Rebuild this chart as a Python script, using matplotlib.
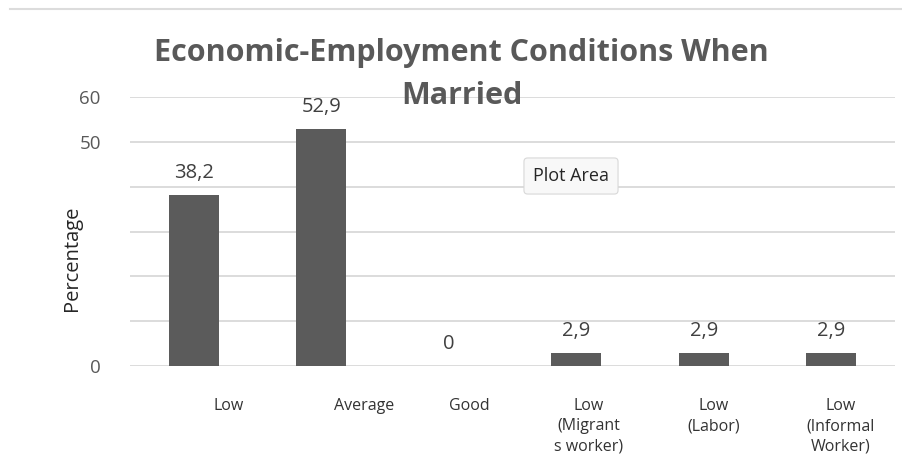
import matplotlib
matplotlib.use("Agg")
import matplotlib.pyplot as plt
from matplotlib.transforms import offset_copy
from matplotlib.lines import Line2D

plt.rcParams['font.family'] = ['Open Sans', 'DejaVu Sans']

categories = ["Low", "Average", "Good", "Low\n(Migrant\ns worker)", "Low\n(Labor)", "Low\n(Informal\nWorker)"]
values = [38.2, 52.9, 0.0, 2.9, 2.9, 2.9]
value_labels = ["38,2", "52,9", "0", "2,9", "2,9", "2,9"]
ytick_values = [0, 10, 20, 30, 40, 50, 60]
ytick_labels = ["0", "", "", "", "", "50", "60"]

# horizontal nudges (points) for the category labels
label_shift = [25, 31, 15, 9, 7, 7]

W, H = 902, 457
fig = plt.figure(figsize=(W / 100, H / 100), dpi=100)
fig.patch.set_facecolor("white")

ax = fig.add_axes([130 / W, (H - 366) / H, (895 - 130) / W, (366 - 97) / H])
x = list(range(len(categories)))
ax.bar(x, values, width=0.39, color="#5b5b5b", zorder=3)

ax.set_xlim(-0.5, len(categories) - 0.5)
ax.set_ylim(0, 60)
ax.set_yticks(ytick_values)
ax.set_yticklabels(ytick_labels, fontsize=13.5, color="#595959")
ax.yaxis.grid(True, color="#dcdcdc", linewidth=1.4, zorder=0)
ax.tick_params(axis="y", length=0, pad=21)
ax.tick_params(axis="x", length=0, pad=23)
for s in ax.spines.values():
    s.set_visible(False)

ax.set_xticks(x)
ax.set_xticklabels(categories, fontsize=11.5, color="#333333", linespacing=1.35,
                   va="top", ha="center")
for lbl, dx in zip(ax.get_xticklabels(), label_shift):
    lbl.set_transform(offset_copy(lbl.get_transform(), fig=fig, x=dx, y=0, units="points"))

for xi, v, t in zip(x, values, value_labels):
    ax.annotate(t, (xi, v), xytext=(0, 16), textcoords="offset points",
                ha="center", va="center", fontsize=14.5, color="#404040", clip_on=False)

ax.set_ylabel("Percentage", fontsize=14.5, color="#262626")
ax.yaxis.set_label_coords(-0.063, 0.40)

fig.text(461 / W, 1 - 53 / H, "Economic-Employment Conditions When",
         ha="center", va="center", fontsize=22, fontweight="bold", color="#595959")
fig.text(462 / W, 1 - 96 / H, "Married",
         ha="center", va="center", fontsize=22, fontweight="bold", color="#595959")

# hover tooltip box
fig.text(571 / W, 1 - 176 / H, "Plot Area", ha="center", va="center",
         fontsize=13, color="#262626",
         bbox=dict(boxstyle="round,pad=0.5,rounding_size=0.2", fc="#f8f8f8",
                   ec="#d8d8d8", lw=0.8))

# top border line of the chart area
fig.add_artist(Line2D([10 / W, 1.0], [1 - 9 / H, 1 - 9 / H], color="#dcdcdc",
                      linewidth=1.5, transform=fig.transFigure))

fig.savefig("out.png", dpi=100, facecolor="white")
